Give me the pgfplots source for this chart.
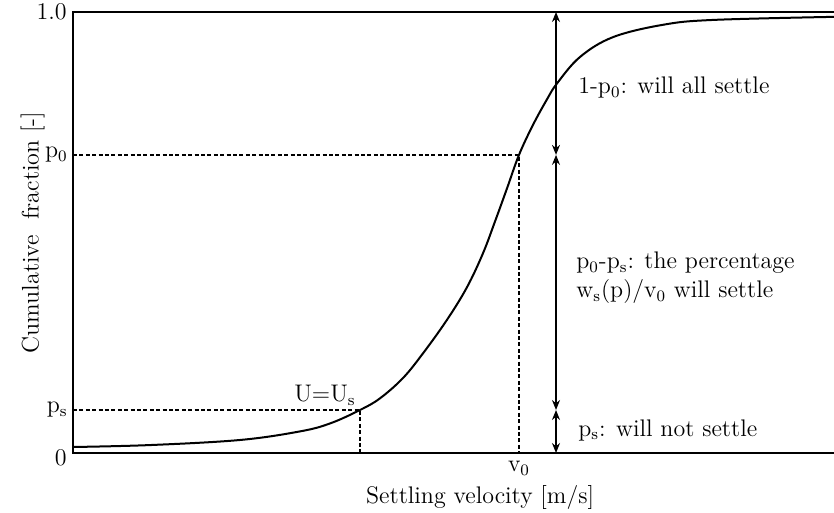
\documentclass[border=0pt,12pt]{standalone}
\usepackage{pgfplots}
\pgfplotsset{compat=1.18}
\usetikzlibrary{calc,arrows.meta}
\begin{document}
\begin{tikzpicture}
\begin{axis}[
  name=ax,
  scale only axis,
  width=380.5pt, height=220.5pt,
  xmin=0, xmax=761, ymin=0, ymax=1,
  axis line style={draw=none},
  xtick={446}, xticklabels={v\textsubscript{0}},
  ytick=\empty,
  xtick pos=bottom,
  major tick length=0pt,
  tick label style={font=\normalsize},
  xlabel={Settling velocity [m/s]},
  ylabel={Cumulative\ \ fraction [-]},
  xlabel style={at={(rel axis cs:0.535,0)}, anchor=north, yshift=-12pt},
  ylabel style={at={(rel axis cs:0,0.5)}, anchor=south, yshift=10pt, xshift=0pt},
  clip=false,
]
\draw[line width=1pt, line cap=rect] (rel axis cs:1,1) -- (rel axis cs:0,1) -- (rel axis cs:0,0) -- (rel axis cs:1,0);
\addplot[black, line width=1pt, smooth, tension=0.6] coordinates {
(0,0.0136) (77,0.018) (167,0.0295) (227,0.049) (257,0.067) (287,0.0975)
(307,0.124) (330,0.170) (350,0.226) (374,0.302) (394,0.376) (410,0.453)
(422,0.525) (434,0.600) (446,0.676) (460,0.744) (474,0.802) (484,0.838)
(507,0.898) (540,0.943) (590,0.971) (640,0.982) (761,0.989)
};
\addplot[black, line width=0.8pt, dash pattern=on 2pt off 1.2pt] coordinates {(0,0.0975) (287,0.0975) (287,0)};
\addplot[black, line width=0.8pt, dash pattern=on 2pt off 1.2pt] coordinates {(0,0.676) (446,0.676) (446,0)};
\addplot[black, line width=0.7pt, {Stealth[length=5pt,width=4pt]}-{Stealth[length=5pt,width=4pt]}] coordinates {(483,0) (483,0.0975)};
\addplot[black, line width=0.7pt, {Stealth[length=5pt,width=4pt]}-{Stealth[length=5pt,width=4pt]}] coordinates {(483,0.0975) (483,0.676)};
\addplot[black, line width=0.7pt, {Stealth[length=5pt,width=4pt]}-{Stealth[length=5pt,width=4pt]}] coordinates {(483,0.676) (483,1)};
\node[anchor=east, inner sep=0pt] at ($(rel axis cs:0,0)+(-3pt,-2.5pt)$) {0};
\node[anchor=east, inner sep=0pt] at ($(rel axis cs:0,0.0975)+(-2.5pt,0)$) {p\textsubscript{s}};
\node[anchor=east, inner sep=0pt] at ($(rel axis cs:0,0.676)+(-2.5pt,0)$) {p\textsubscript{0}};
\node[anchor=east, inner sep=0pt] at ($(rel axis cs:0,1)+(-3pt,0)$) {1.0};
\node[anchor=south east, inner sep=1pt] at (axis cs:285,0.102) {U=U\textsubscript{s}};
\node[anchor=west, inner sep=0pt] at (axis cs:505,0.828) {1-p\textsubscript{0}: will all settle};
\node[anchor=west, inner sep=0pt, align=left] at (axis cs:503,0.397) {p\textsubscript{0}-p\textsubscript{s}: the percentage\\w\textsubscript{s}(p)/v\textsubscript{0} will settle};
\node[anchor=west, inner sep=0pt] at (axis cs:505,0.052) {p\textsubscript{s}: will not settle};
\end{axis}
\pgfresetboundingbox
\path ($(ax.south west)+(-36.5pt,-30pt)$) rectangle ($(ax.north east)+(0,6pt)$);
\end{tikzpicture}
\end{document}
